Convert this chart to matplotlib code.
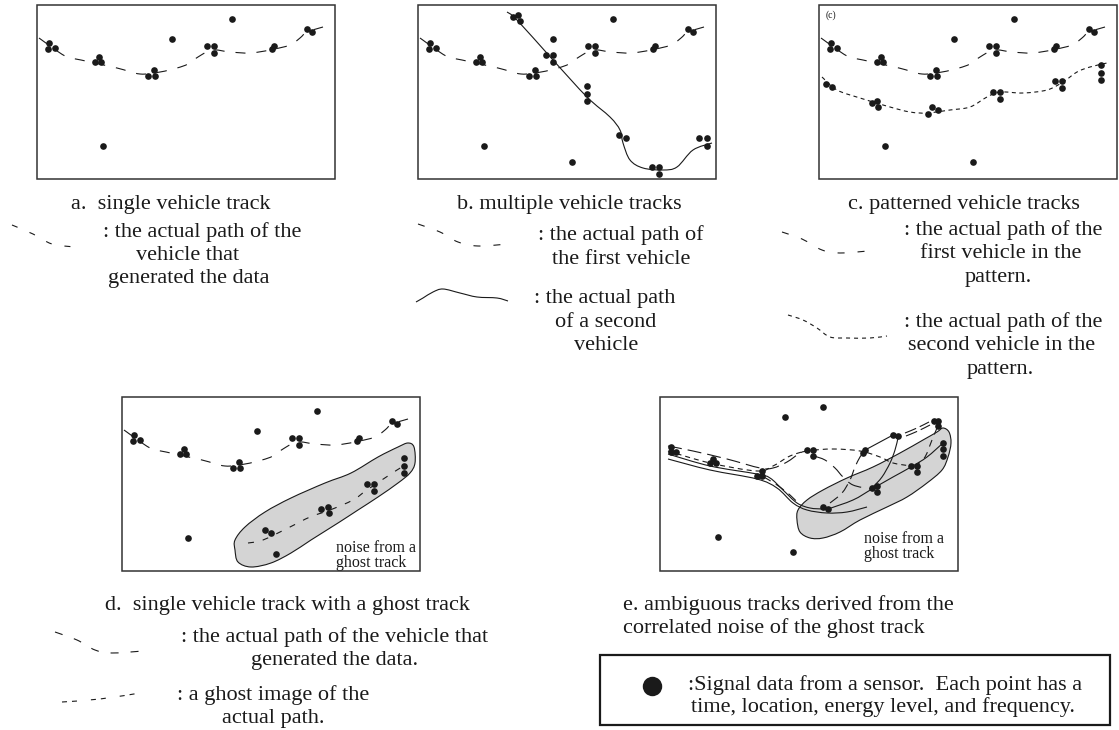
import numpy as np
import matplotlib.pyplot as plt
from matplotlib.path import Path
from matplotlib.patches import PathPatch, Rectangle

plt.rcParams['font.family'] = ['Liberation Serif', 'DejaVu Serif']
plt.rcParams['lines.scale_dashes'] = False

# --- data, in pixels inside a 298 x 174 panel (y down) ---
# first vehicle: sensor hits and its path (same in panels a-d)
track1_x = [12, 11, 18, 62, 58, 64, 117, 111, 118, 170, 177, 177, 237, 235, 270, 275]
track1_y = [38, 44, 43, 52, 57, 57, 65, 71, 71, 41, 41, 48, 41, 44, 24, 27]
path1_x = [2, 28, 44, 80, 103, 123, 140, 151, 161, 175, 193, 213, 233, 253, 263, 270, 286]
path1_y = [33, 51, 55, 63, 69, 67, 63, 59, 52, 45, 47, 48, 45, 40, 33, 27, 22]
noise_x = [135, 195, 66]
noise_y = [34, 14, 141]
noise2_x = [154]
noise2_y = [157]

# b: second vehicle
track2_x = [95, 100, 102, 128, 135, 135, 169, 169, 169, 201, 208, 234, 241, 241, 281, 289, 289]
track2_y = [12, 10, 16, 50, 50, 57, 81, 89, 96, 130, 133, 162, 162, 169, 133, 133, 141]
path2_x = [89, 99, 135, 169, 192, 202, 205, 212, 225, 245, 259, 275, 294]
path2_y = [7, 15, 55, 92, 112, 125, 138, 155, 163, 165, 162, 145, 138]

# c: second vehicle of the pattern
track3_x = [7, 13, 58, 53, 59, 113, 119, 109, 174, 181, 181, 236, 243, 243, 282, 282, 282]
track3_y = [79, 82, 96, 98, 102, 102, 105, 109, 87, 87, 94, 76, 76, 83, 60, 68, 75]
path3_x = [3, 18, 41, 71, 91, 108, 131, 151, 168, 181, 204, 228, 244, 258, 271, 288]
path3_y = [72, 85, 93, 102, 107, 108, 105, 102, 92, 87, 88, 85, 77, 67, 62, 58]

# d: ghost track
ghost_x = [282, 282, 282, 245, 252, 252, 199, 206, 207, 143, 149]
ghost_y = [61, 69, 76, 87, 87, 94, 112, 110, 116, 133, 136]
ghost_path_x = [126, 141, 168, 188, 208, 231, 245, 275, 281]
ghost_path_y = [146, 143, 130, 120, 113, 103, 93, 73, 70]
blob_d_x = [113, 123, 143, 169, 203, 229, 256, 276, 286, 292, 293, 288, 276, 256,
            236, 216, 189, 169, 149, 129, 116, 113]
blob_d_y = [143, 130, 115, 101, 86, 76, 60, 50, 46, 50, 66, 76, 86, 100,
            113, 126, 143, 156, 166, 170, 165, 153]

# e: ambiguous tracks
pts_e_x = [11, 11, 16, 53, 50, 56, 102, 97, 102, 147, 153, 153, 205, 203, 233, 238,
           274, 278, 278, 283, 283, 283, 251, 257, 257, 212, 217, 217, 163, 168]
pts_e_y = [50, 55, 55, 62, 66, 66, 74, 79, 79, 53, 53, 59, 53, 56, 38, 39,
           24, 24, 29, 46, 52, 59, 69, 69, 75, 91, 89, 95, 110, 112]
noise_e_x = [125, 163, 58, 133]
noise_e_y = [20, 10, 140, 155]
blob_e_x = [138, 147, 163, 187, 213, 240, 263, 277, 283, 289, 291, 288, 282, 267,
            247, 227, 200, 180, 163, 150, 140, 137]
blob_e_y = [113, 103, 93, 81, 70, 56, 43, 35, 31, 35, 46, 60, 73, 86,
            100, 110, 123, 135, 141, 141, 135, 123]
e_long_top = ([8, 33, 67, 100, 113, 127, 140, 147], [49, 54, 62, 71, 71, 65, 56, 54])
e_short_mid = ([8, 50, 97, 113, 130, 147, 173, 200, 220, 233, 251],
               [54, 66, 74, 69, 59, 54, 52, 54, 60, 66, 69])
e_solid_in = ([8, 50, 97, 110, 123, 137, 150, 163], [57, 69, 77, 81, 93, 106, 111, 112])
e_solid_out = ([8, 50, 97, 117, 133, 147, 167, 187, 207], [62, 73, 82, 91, 106, 113, 116, 115, 110])
e_solid_ghost = ([168, 193, 212, 233, 251, 267, 283], [112, 103, 92, 80, 70, 60, 46])
e_long_mid = ([102, 117, 130, 138], [79, 88, 98, 106])
e_long_up = ([170, 182, 190, 195, 200, 204], [106, 96, 83, 70, 60, 54])
e_solid_short = ([207, 233], [52, 38])
e_solid_arc = ([238, 235, 230, 222, 213], [41, 53, 66, 80, 90])
e_arc2 = ([154, 165, 175, 183, 193, 210], [59, 63, 71, 80, 88, 92])
e_pair1 = ([245, 257, 269], [36, 31, 25])
e_pair2 = ([246, 258, 270], [39, 34, 28])
e_down = ([277, 272, 265, 257], [31, 43, 60, 68])

# legend samples (figure pixels)
key_a = ([12, 33, 52, 75], [225, 234, 244, 247])
key_b = ([418, 440, 458, 478, 508], [224, 232, 242, 246, 244])
key_b2 = ([416, 423, 433, 443, 460, 477, 497, 508], [302, 298, 292, 289, 293, 297, 298, 301])
key_c = ([782, 802, 822, 840, 868], [232, 239, 250, 253, 251])
key_c2 = ([788, 803, 817, 830, 847, 870, 887], [315, 320, 328, 337, 338, 338, 336])
key_d = ([55, 77, 95, 112, 143], [632, 640, 650, 653, 651])
key_d2 = ([62, 100, 140], [702, 699, 693])

# texts
cap_a = "a.  single vehicle track"
leg_a = [": the actual path of the", "vehicle that", "generated the data"]
cap_b = "b. multiple vehicle tracks"
leg_b1 = [": the actual path of", "the first vehicle"]
leg_b2 = [": the actual path", "of a second", "vehicle"]
cap_c = "c. patterned vehicle tracks"
leg_c1 = [": the actual path of the", "first vehicle in the", "pattern."]
leg_c2 = [": the actual path of the", "second vehicle in the", "pattern."]
cap_d = "d.  single vehicle track with a ghost track"
leg_d1 = [": the actual path of the vehicle that", "generated the data."]
leg_d2 = [": a ghost image of the", "actual path."]
cap_e = ["e. ambiguous tracks derived from the", "correlated noise of the ghost track"]
key_text = [":Signal data from a sensor.  Each point has a",
            "time, location, energy level, and frequency."]
ghost_label = ["noise from a", "ghost track"]

PX = 0.72  # pixel -> point at 100 dpi
INK = '#1a1a1a'
FS = 16


def smooth(xs, ys, ox=0, oy=0, closed=False):
    P = np.column_stack([np.asarray(xs, float) + ox, np.asarray(ys, float) + oy])
    if closed:
        pts = np.vstack([P[-1], P, P[0], P[1]])
        n = len(P) + 1
    else:
        pts = np.vstack([P[0], P, P[-1]])
        n = len(P)
    verts = [pts[1]]
    codes = [Path.MOVETO]
    for i in range(1, n):
        p0, p1, p2, p3 = pts[i - 1], pts[i], pts[i + 1], pts[i + 2]
        verts += [p1 + (p2 - p0) / 6, p2 - (p3 - p1) / 6, p2]
        codes += [Path.CURVE4] * 3
    return Path(verts, codes)


def curve(ax, xy, ox=0, oy=0, dash=None, lw=0.8, closed=False, **kw):
    ls = '-' if dash is None else (0, tuple(d * PX for d in dash))
    ax.add_patch(PathPatch(smooth(xy[0], xy[1], ox, oy, closed), fill=False,
                           lw=lw, ls=ls, ec=INK, capstyle='butt', **kw))


def dots(ax, xs, ys, ox, oy):
    ax.plot(np.asarray(xs) + ox, np.asarray(ys) + oy, 'o', color=INK, ms=4.8,
            mec='none', zorder=5)


def lines(ax, txts, xs, ys, ha='center', fs=FS):
    for t, x, y in zip(txts, xs, ys):
        ax.text(x, y + 5, t, ha=ha, va='baseline', fontsize=fs, color=INK)


fig = plt.figure(figsize=(11.19, 7.30), dpi=100)
ax = fig.add_axes([0, 0, 1, 1])
ax.set_xlim(0, 1119)
ax.set_ylim(730, 0)
ax.axis('off')

W, H = 298, 174
panels = {'a': (37, 5), 'b': (418, 5), 'c': (819, 5), 'd': (122, 397), 'e': (660, 397)}
for ox, oy in panels.values():
    ax.add_patch(Rectangle((ox, oy), W, H, fill=False, ec='#333333', lw=1.1, zorder=6))

LONG = (10, 11)
for k in 'abcd':
    ox, oy = panels[k]
    dots(ax, track1_x, track1_y, ox, oy)
    dots(ax, noise_x, noise_y, ox, oy)
    curve(ax, (path1_x, path1_y), ox, oy, dash=LONG)
    if k in 'bc':
        dots(ax, noise2_x, noise2_y, ox, oy)

ox, oy = panels['b']
dots(ax, track2_x, track2_y, ox, oy)
curve(ax, (path2_x, path2_y), ox, oy)

ox, oy = panels['c']
dots(ax, track3_x, track3_y, ox, oy)
curve(ax, (path3_x, path3_y), ox, oy, dash=(4, 3.5))
ax.text(ox + 12, oy + 10, "(c)", fontsize=7, color=INK, va='center', ha='center')

ox, oy = panels['d']
ax.add_patch(PathPatch(smooth(blob_d_x, blob_d_y, ox, oy, closed=True), fc='#d4d4d4',
                       ec=INK, lw=0.8, zorder=2))
dots(ax, ghost_x, ghost_y, ox, oy)
dots(ax, noise2_x, noise2_y, ox, oy)
curve(ax, (ghost_path_x, ghost_path_y), ox, oy, dash=(6, 9), zorder=3)
lines(ax, ghost_label, [ox + 214] * 2, [oy + 150, oy + 165], ha='left', fs=11.5)

ox, oy = panels['e']
ax.add_patch(PathPatch(smooth(blob_e_x, blob_e_y, ox, oy, closed=True), fc='#d4d4d4',
                       ec=INK, lw=0.8, zorder=2))
dots(ax, pts_e_x, pts_e_y, ox, oy)
dots(ax, noise_e_x, noise_e_y, ox, oy)
curve(ax, e_long_top, ox, oy, dash=(14, 6), zorder=3)
curve(ax, e_short_mid, ox, oy, dash=(5, 4), zorder=3)
curve(ax, e_solid_in, ox, oy, zorder=3)
curve(ax, e_solid_out, ox, oy, zorder=3)
curve(ax, e_solid_ghost, ox, oy, zorder=3)
curve(ax, e_long_mid, ox, oy, dash=(10, 6), zorder=3)
curve(ax, e_long_up, ox, oy, dash=(10, 6), zorder=3)
curve(ax, e_solid_short, ox, oy, zorder=3)
curve(ax, e_solid_arc, ox, oy, zorder=3)
curve(ax, e_arc2, ox, oy, dash=(14, 8), zorder=3)
curve(ax, e_pair1, ox, oy, dash=(12, 4), zorder=3)
curve(ax, e_pair2, ox, oy, dash=(12, 4), zorder=3)
curve(ax, e_down, ox, oy, dash=(7, 6), zorder=3)
lines(ax, ghost_label, [ox + 204] * 2, [oy + 141, oy + 156], ha='left', fs=11.5)

# legend samples
curve(ax, key_a, dash=(6, 13))
curve(ax, key_b, dash=(7, 13))
curve(ax, key_b2)
curve(ax, key_c, dash=(7, 13))
curve(ax, key_c2, dash=(4, 4))
curve(ax, key_d, dash=(8, 12))
curve(ax, key_d2, dash=(5, 5, 5, 14))

# captions and explanations
lines(ax, [cap_a], [171], [204])
lines(ax, leg_a, [202, 188, 189], [232, 255, 278])
lines(ax, [cap_b], [569], [204])
lines(ax, leg_b1, [621, 621], [235, 259])
lines(ax, leg_b2, [605, 606, 606], [298, 322, 345])
lines(ax, [cap_c], [964], [204])
lines(ax, leg_c1, [1003, 1001, 998], [230, 253, 277])
lines(ax, leg_c2, [1003, 1002, 1000], [322, 345, 369])
lines(ax, [cap_d], [287], [605])
lines(ax, leg_d1, [335, 335], [637, 660])
lines(ax, leg_d2, [273, 273], [695, 718])
lines(ax, cap_e, [623, 623], [605, 628], ha='left')

ax.add_patch(Rectangle((600, 655), 510, 70, fill=False, ec=INK, lw=1.6))
ax.plot([652], [686], 'o', color=INK, ms=14, mec='none')
lines(ax, key_text, [885, 883], [685, 707])

fig.savefig('out.png', dpi=100)
